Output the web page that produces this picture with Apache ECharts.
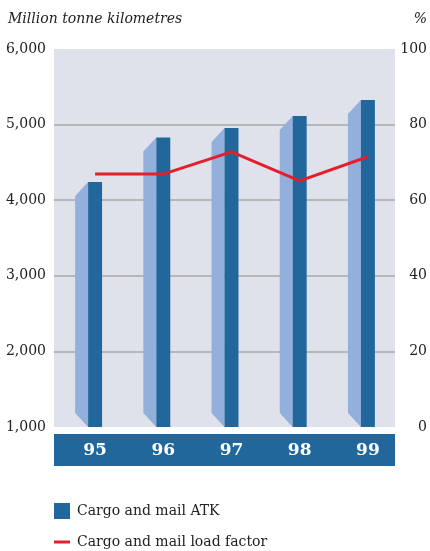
<!DOCTYPE html>
<html>
<head>
<meta charset="utf-8">
<script src="https://cdn.jsdelivr.net/npm/echarts@6/dist/echarts.min.js"></script>
<style>
html,body{margin:0;padding:0;background:#fff;}
#chart{width:430px;height:551px;}
</style>
</head>
<body>
<div id="chart"></div>
<script>
const categories = ['95', '96', '97', '98', '99'];
const atk = [4240, 4830, 4955, 5115, 5325];
const loadFactor = [66.9, 66.9, 72.8, 65.1, 71.5];
const leftTicks = { min: 1000, max: 6000, interval: 1000 };
const rightTicks = { min: 0, max: 100, interval: 20 };

const FONT = 'DejaVu Serif';
const DARK = '#22679b';
const LIGHT = '#93afdb';
const RED = '#e41f2b';
const G = { left: 54, top: 49, width: 341, height: 378 };
const SHIFT = 7;

const chart = echarts.init(document.getElementById('chart'));

const barData = categories.map((c, i) => [i, atk[i]]);

function renderBar(params, api) {
  const idx = api.value(0);
  const top = api.coord([idx, api.value(1)]);
  const base = api.coord([idx, leftTicks.min]);
  const band = api.size([1, 0])[0];
  const w = band * 0.205;
  const d = band * 0.19;
  const dy = 14;
  const cx = top[0];
  return {
    type: 'group',
    children: [
      { type: 'polygon', shape: { points: [[cx, top[1]], [cx - d, top[1] + dy], [cx - d, base[1] - dy], [cx, base[1]]] }, style: { fill: LIGHT } },
      { type: 'rect', shape: { x: cx, y: top[1], width: w, height: base[1] - top[1] }, style: { fill: DARK } }
    ]
  };
}

const option = {
  animation: false,
  backgroundColor: '#fff',
  title: [
    { text: 'Million tonne kilometres', left: 8, top: 12, padding: 0, textStyle: { fontFamily: FONT, fontStyle: 'italic', fontWeight: 'normal', fontSize: 14, color: '#222' } },
    { text: '%', right: 3, top: 12, padding: 0, textStyle: { fontFamily: FONT, fontStyle: 'italic', fontWeight: 'normal', fontSize: 14, color: '#222' } }
  ],
  grid: [
    { left: G.left, top: G.top, width: G.width, height: G.height, show: true, backgroundColor: '#dfe2ea', borderWidth: 0 },
    { left: G.left + SHIFT, top: G.top, width: G.width, height: G.height, show: false }
  ],
  xAxis: [
    { type: 'category', gridIndex: 0, data: categories, boundaryGap: true, axisLine: { show: false }, axisTick: { show: false }, axisLabel: { show: false } },
    { type: 'category', gridIndex: 1, data: categories, boundaryGap: true, position: 'bottom', z: 5,
      axisLine: { show: false }, axisTick: { show: false },
      axisLabel: { margin: 15, color: '#fff', fontFamily: FONT, fontWeight: 'bold', fontSize: 17 } }
  ],
  yAxis: [
    { type: 'value', gridIndex: 0, position: 'left', min: leftTicks.min, max: leftTicks.max, interval: leftTicks.interval,
      axisLine: { show: false }, axisTick: { show: false },
      axisLabel: { margin: 8, color: '#222', fontFamily: FONT, fontSize: 14, formatter: v => v.toLocaleString('en-US') },
      splitLine: { show: true, showMinLine: false, showMaxLine: false, lineStyle: { color: '#a9a9a9', width: 1.5 } } },
    { type: 'value', gridIndex: 1, position: 'right', min: rightTicks.min, max: rightTicks.max, interval: rightTicks.interval,
      axisLine: { show: false }, axisTick: { show: false }, splitLine: { show: false },
      axisLabel: { margin: 25, align: 'right', color: '#222', fontFamily: FONT, fontSize: 14 } }
  ],
  legend: [
    { data: [{ name: 'Cargo and mail ATK', icon: 'rect' }], left: 54, top: 503, padding: 0, itemWidth: 16, itemHeight: 16, itemGap: 7,
      textStyle: { fontFamily: FONT, fontSize: 14, color: '#222', padding: [0, 0, 0, 2] } },
    { data: [{ name: 'Cargo and mail load factor', icon: 'rect' }], left: 54, top: 535, padding: 0, itemWidth: 16, itemHeight: 3, itemGap: 7,
      textStyle: { fontFamily: FONT, fontSize: 14, color: '#222', padding: [0, 0, 0, 2] } }
  ],
  graphic: [
    { type: 'rect', z: -1, shape: { x: G.left, y: G.top + G.height + 7, width: G.width, height: 32 }, style: { fill: DARK } }
  ],
  series: [
    { name: 'Cargo and mail ATK', type: 'custom', xAxisIndex: 0, yAxisIndex: 0, data: barData, renderItem: renderBar,
      itemStyle: { color: DARK }, encode: { x: 0, y: 1 } },
    { name: 'Cargo and mail load factor', type: 'line', xAxisIndex: 1, yAxisIndex: 1, data: loadFactor, symbol: 'none',
      lineStyle: { color: RED, width: 3 }, itemStyle: { color: RED }, z: 3 }
  ]
};
chart.setOption(option);
</script>
</body>
</html>
